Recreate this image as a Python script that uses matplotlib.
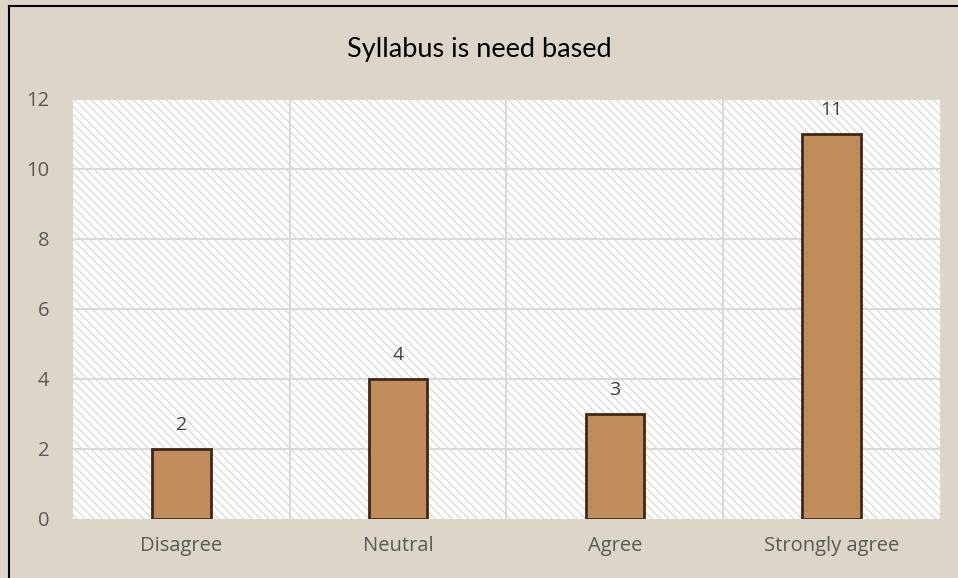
import numpy as np
import matplotlib.pyplot as plt
from matplotlib.lines import Line2D
from matplotlib.patches import Rectangle

# Daten
categories = ['Disagree', 'Neutral', 'Agree', 'Strongly agree']
counts = [2, 4, 3, 11]
y_ticks = [0, 2, 4, 6, 8, 10, 12]

plt.rcParams['hatch.linewidth'] = 0.8

fig = plt.figure(figsize=(9.58, 5.78), dpi=100)
fig.patch.set_facecolor('#ddd5c8')
ax = fig.add_axes([73 / 958, 1 - 519 / 578, 867 / 958, 420 / 578])

# Plotbereich: weiss mit Schraffur
ax.set_facecolor('white')
ax.add_patch(Rectangle((0, 0), 1, 1, transform=ax.transAxes, facecolor='white',
                       edgecolor='#d6d6d6', linewidth=0, hatch='\\\\\\\\', zorder=0))

x = np.arange(len(categories))
bars = ax.bar(x, counts, width=0.27, color='#c28d5d', edgecolor='#3f2815',
              linewidth=2, zorder=3)

for xi, v in zip(x, counts):
    ax.annotate(str(v), (xi, v), xytext=(0, 11), textcoords='offset points',
                ha='center', va='bottom', fontsize=14, color='#404040',
                family='Open Sans')

ax.set_xlim(-0.5, len(categories) - 0.5)
ax.set_ylim(0, 12)
ax.set_yticks(y_ticks)
ax.set_xticks(x)
ax.set_xticklabels(categories)
ax.tick_params(length=0, labelsize=14.5, labelcolor='#595959')
ax.tick_params(axis='y', pad=17)
ax.tick_params(axis='x', pad=12)
for lbl in ax.get_xticklabels() + ax.get_yticklabels():
    lbl.set_family('Open Sans')

# Gitterlinien
for yv in y_ticks[1:]:
    ax.axhline(yv, color='#d9d9d9', linewidth=1.5, zorder=1)
for xb in [0.5, 1.5, 2.5]:
    ax.axvline(xb, color='#d9d9d9', linewidth=1.5, zorder=1)
for s in ax.spines.values():
    s.set_visible(False)

fig.text(0.5, 1 - 50 / 578, 'Syllabus is need based', ha='center', va='center',
         fontsize=19.5, family='Lato', color='black')

# Rahmen links und oben
fig.add_artist(Line2D([9 / 958, 9 / 958], [0, 1 - 6 / 578], color='black', linewidth=1.5))
fig.add_artist(Line2D([9 / 958, 1], [1 - 6 / 578, 1 - 6 / 578], color='black', linewidth=1.5))

fig.savefig('out.png', dpi=100, facecolor=fig.get_facecolor())
